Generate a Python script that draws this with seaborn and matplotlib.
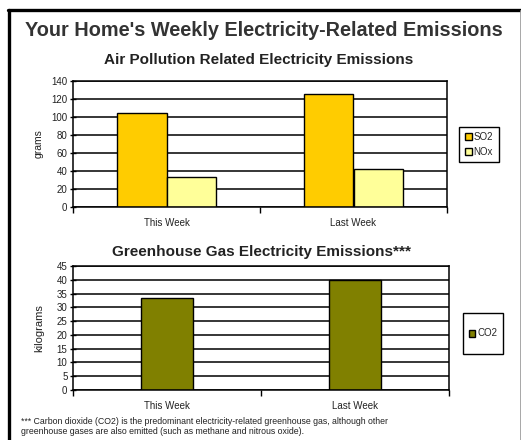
import matplotlib
matplotlib.use("Agg")
import matplotlib.pyplot as plt
from matplotlib.lines import Line2D
from matplotlib.patches import Rectangle
import seaborn as sns
import pandas as pd

# Weekly emissions by period
periods = ["This Week", "Last Week"]
so2_grams = [104, 126]
nox_grams = [33, 42]
co2_kilograms = [33.5, 40]

air_ticks = list(range(0, 141, 20))
ghg_ticks = list(range(0, 46, 5))

air_df = pd.DataFrame({
    "period": periods * 2,
    "gas": ["SO2"] * len(periods) + ["NOx"] * len(periods),
    "grams": so2_grams + nox_grams,
})
ghg_df = pd.DataFrame({
    "period": periods,
    "gas": ["CO2"] * len(periods),
    "kilograms": co2_kilograms,
})

sns.set_theme(style="white")
plt.rcParams["font.family"] = ["Liberation Sans", "DejaVu Sans"]

W, H = 521, 440
fig = plt.figure(figsize=(W / 100, H / 100), dpi=100)
fig.patch.set_facecolor("white")


def fx(px):
    return px / W


def fy(py):
    return 1 - py / H


def style_axes(ax, ticks, width_px):
    ax.set_ylim(ticks[0], ticks[-1])
    ax.set_yticks(ticks)
    ax.set_xlim(-0.5, len(periods) - 0.5)
    ax.set_axisbelow(True)
    ax.yaxis.grid(True, color="black", linewidth=1.1)
    ax.xaxis.grid(False)
    for s in ax.spines.values():
        s.set_color("black")
        s.set_linewidth(1.1)
    ax.tick_params(axis="y", which="major", direction="inout", length=5,
                   width=1.0, color="black", labelsize=7, pad=1.5, left=True)
    ax.tick_params(axis="x", which="major", length=0, labelsize=7, pad=8)
    ax.set_xticks([i - 0.5 for i in range(len(periods) + 1)], minor=True)
    ax.tick_params(axis="x", which="minor", direction="out", length=4,
                   width=1.0, color="black", bottom=True)
    ax.set_xlabel("")
    ax.yaxis.set_label_coords(-29 / width_px, 0.5)
    for lab in ax.get_xticklabels() + ax.get_yticklabels():
        lab.set_color("#222222")


def framed_legend(handles, labels, x0, y0, x1, y1, **kw):
    leg = fig.legend(handles, labels, loc="center",
                     bbox_to_anchor=(fx((x0 + x1) / 2), fy((y0 + y1) / 2)),
                     fontsize=7, frameon=False, handlelength=0.7,
                     handleheight=0.7, handletextpad=0.2, **kw)
    fig.add_artist(Rectangle((fx(x0), fy(y1)), fx(x1 - x0), (y1 - y0) / H,
                             transform=fig.transFigure, fill=False,
                             edgecolor="black", linewidth=1.0))
    return leg


# Air pollution chart
ax1 = fig.add_axes([fx(73), fy(207), fx(447 - 73), (207 - 81) / H])
sns.barplot(data=air_df, x="period", y="grams", hue="gas",
            palette={"SO2": "#FFCC00", "NOx": "#FFFF99"},
            width=0.53, edgecolor="black", linewidth=1.0, saturation=1,
            ax=ax1, legend=True)
ax1.set_ylabel("grams", fontsize=7.5, color="#222222")
style_axes(ax1, air_ticks, 447 - 73)
h1, l1 = ax1.get_legend_handles_labels()
ax1.get_legend().remove()
framed_legend(h1, l1, 459, 127, 499, 162, labelspacing=0.5)

# Greenhouse gas chart
ax2 = fig.add_axes([fx(73), fy(390), fx(449 - 73), (390 - 266) / H])
sns.barplot(data=ghg_df, x="period", y="kilograms", hue="gas",
            palette={"CO2": "#808000"},
            width=0.28, edgecolor="black", linewidth=1.0, saturation=1,
            ax=ax2, legend=True)
ax2.set_ylabel("kilograms", fontsize=8, color="#222222")
style_axes(ax2, ghg_ticks, 449 - 73)
h2, l2 = ax2.get_legend_handles_labels()
ax2.get_legend().remove()
framed_legend(h2, l2, 463, 313, 503, 354)

# Titles and footnote
fig.text(fx(264), fy(30), "Your Home's Weekly Electricity-Related Emissions",
         ha="center", va="center", fontsize=14.3, fontweight="bold",
         color="#333333")
fig.text(fx(259), fy(60), "Air Pollution Related Electricity Emissions",
         ha="center", va="center", fontsize=11, fontweight="bold",
         color="#222222")
fig.text(fx(262), fy(252), "Greenhouse Gas Electricity Emissions***",
         ha="center", va="center", fontsize=11, fontweight="bold",
         color="#222222")
fig.text(fx(21), fy(426.5),
         "*** Carbon dioxide (CO2) is the predominant electricity-related "
         "greenhouse gas, although other\n"
         "greenhouse gases are also emitted (such as methane and nitrous oxide).",
         ha="left", va="center", fontsize=6.3, linespacing=1.05,
         color="#222222")

# Page frame
fig.add_artist(Line2D([fx(8.5), fx(8.5)], [0, fy(10)], color="black",
                      linewidth=2.4, transform=fig.transFigure))
fig.add_artist(Line2D([fx(7.5), 1], [fy(10), fy(10)], color="black",
                      linewidth=2.4, transform=fig.transFigure))
fig.add_artist(Line2D([fx(519.5), fx(519.5)], [0, fy(10)], color="#999999",
                      linewidth=0.6, transform=fig.transFigure))

fig.savefig("out.png", dpi=100, facecolor="white")
